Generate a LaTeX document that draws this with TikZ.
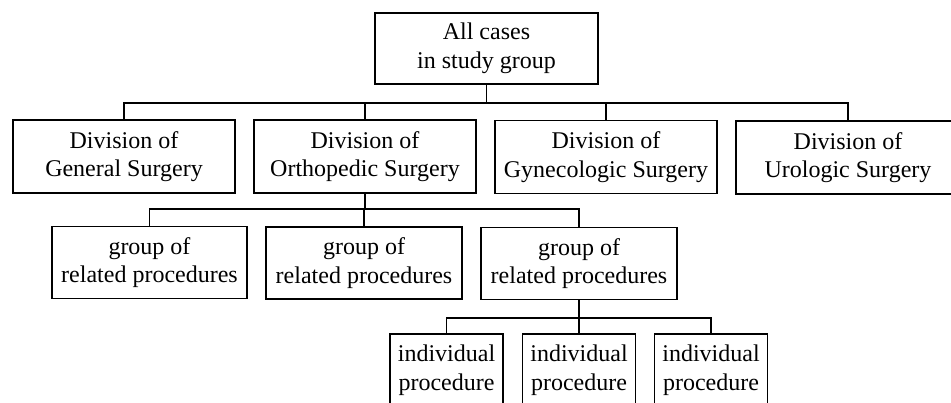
\documentclass[tikz,border=0pt]{standalone}
\usepackage{fontspec}
\setmainfont{Liberation Serif}
\begin{document}
\begin{tikzpicture}[x=1pt,y=-1pt,
  box/.style={draw, line width=1.1pt, inner sep=0pt, align=center,
    font=\fontsize{24}{28.5}\selectfont, minimum height=72pt},
  divbox/.style={box, minimum width=222pt, minimum height=73pt},
  grpbox/.style={box, minimum width=196pt},
  indbox/.style={box, minimum width=113pt},
  conn/.style={line width=1.1pt}]
\fill[white] (0,0) rectangle (951,402);
\useasboundingbox (0,0) rectangle (951,402);

\node[box, minimum width=223pt, minimum height=71pt] (top) at (486.5,48.5) {All cases\\in study group};

\node[divbox] (gen)  at (124,156.5) {Division of\\General Surgery};
\node[divbox] (orth) at (365,156.5) {Division of\\Orthopedic Surgery};
\node[divbox] (gyn)  at (606,157) {Division of\\Gynecologic Surgery};
\node[divbox, minimum width=224pt] (uro) at (848,157.5) {Division of\\Urologic Surgery};

\node[grpbox, minimum width=195pt] (g1) at (149.5,262.5) {group of\\related procedures};
\node[grpbox] (g2) at (364,263) {group of\\related procedures};
\node[grpbox] (g3) at (579,263.5) {group of\\related procedures};

\node[indbox] (i1) at (446.5,370) {individual\\procedure};
\node[indbox] (i2) at (579,370) {individual\\procedure};
\node[indbox] (i3) at (711,370) {individual\\procedure};

\coordinate (bus1) at (0,103);
\coordinate (bus2) at (0,209);
\coordinate (bus3) at (0,318);

\draw[conn] (top.south) -- (top.south |- bus1);
\draw[conn] (gen.north) |- (bus1 -| uro.north) -- (uro.north);
\draw[conn] (orth.north) -- (orth.north |- bus1);
\draw[conn] (gyn.north) -- (gyn.north |- bus1);

\draw[conn] (orth.south) -- (orth.south |- bus2);
\draw[conn] (g1.north) |- (bus2 -| g3.north) -- (g3.north);
\draw[conn] (g2.north) -- (g2.north |- bus2);

\draw[conn] (g3.south) -- (g3.south |- bus3);
\draw[conn] (i1.north) |- (bus3 -| i3.north) -- (i3.north);
\draw[conn] (i2.north) -- (i2.north |- bus3);
\end{tikzpicture}
\end{document}
